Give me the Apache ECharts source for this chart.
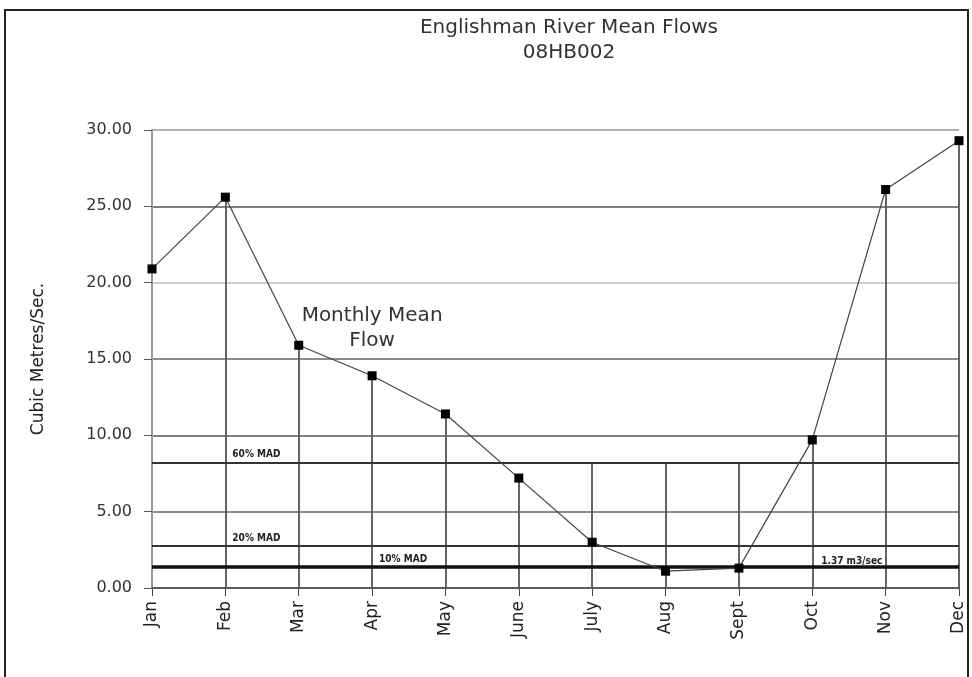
<!DOCTYPE html>
<html>
<head>
<meta charset="utf-8">
<script src="https://cdn.jsdelivr.net/npm/echarts@6/dist/echarts.min.js"></script>
<style>
  html, body { margin: 0; padding: 0; background: #fff; }
  #chart { width: 972px; height: 677px; }
</style>
</head>
<body>
<div id="chart"></div>
<script>
// months and monthly mean flows (m3/s)
var months = ['Jan', 'Feb', 'Mar', 'Apr', 'May', 'June', 'July', 'Aug', 'Sept', 'Oct', 'Nov', 'Dec'];
var meanFlow = [20.9, 25.6, 15.9, 13.9, 11.4, 7.2, 3.0, 1.1, 1.3, 9.7, 26.1, 29.3];
// top of the vertical drop line for each month
var dropTop = [20.9, 25.6, 15.9, 13.9, 11.4, 7.2, 8.2, 8.2, 8.2, 9.7, 26.1, 29.3];
// MAD reference levels
var madNames = ['60% MAD', '20% MAD', '10% MAD'];
var madValues = [8.2, 2.74, 1.37];
var madLabelAt = ['Feb', 'Feb', 'Apr'];

var font = '"DejaVu Sans", "Liberation Sans", sans-serif';
var smallFont = '"Liberation Sans Narrow", "DejaVu Sans Condensed", sans-serif';

var chart = echarts.init(document.getElementById('chart'));

var dropLines = [];
for (var i = 1; i < months.length; i++) {
    dropLines.push([
        { coord: [months[i], 0] },
        { coord: [months[i], dropTop[i]] }
    ]);
}

var madLines = [];
var madLabels = [];
for (var j = 0; j < madValues.length; j++) {
    madLines.push({
        yAxis: madValues[j],
        lineStyle: { color: j == 2 ? '#111' : '#333', width: j == 2 ? 3.5 : 2, type: 'solid' }
    });
    madLabels.push({
        coord: [madLabelAt[j], madValues[j]],
        value: madNames[j],
        label: { position: 'right', offset: [2, -8], formatter: madNames[j] }
    });
}
madLabels.push({
    coord: ['Oct', madValues[2]],
    value: '1.37 m3/sec',
    label: { position: 'right', offset: [4, -6], formatter: '1.37 m3/sec' }
});

var option = {
    animation: false,
    backgroundColor: '#fff',
    title: {
        text: 'Englishman River Mean Flows\n08HB002',
        left: 564,
        top: 10,
        textAlign: 'center',
        textStyle: {
            fontFamily: font,
            fontSize: 20,
            fontWeight: 'normal',
            color: '#333',
            lineHeight: 25
        }
    },
    graphic: [{
        type: 'rect',
        shape: { x: 5, y: 10, width: 963, height: 700 },
        style: { fill: 'none', stroke: '#222', lineWidth: 2 },
        silent: true
    }],
    grid: {
        left: 152,
        right: 13,
        top: 130,
        bottom: 89
    },
    xAxis: {
        type: 'category',
        data: months,
        boundaryGap: false,
        axisLine: { lineStyle: { color: '#444', width: 1.5 } },
        axisTick: { show: true, length: 8, lineStyle: { color: '#444' } },
        axisLabel: {
            rotate: 90,
            margin: 13,
            fontFamily: font,
            fontSize: 17,
            color: '#222'
        },
        splitLine: { show: false }
    },
    yAxis: {
        type: 'value',
        min: 0,
        max: 30,
        interval: 5,
        name: 'Cubic Metres/Sec.',
        nameLocation: 'middle',
        nameGap: 105,
        nameTextStyle: { fontFamily: font, fontSize: 17, color: '#222' },
        axisLine: { show: true, lineStyle: { color: '#999', width: 2 } },
        axisTick: { show: true, length: 8, lineStyle: { color: '#555' } },
        axisLabel: {
            margin: 20,
            fontFamily: font,
            fontSize: 16,
            color: '#333',
            formatter: function (v) { return v.toFixed(2); }
        },
        splitLine: {
            show: true,
            lineStyle: {
                color: ['#888', '#666', '#555', '#666', '#bbb', '#555', '#999'],
                width: 1.5
            }
        }
    },
    series: [
        {
            name: 'Monthly Mean Flow',
            type: 'line',
            data: meanFlow,
            symbol: 'rect',
            symbolSize: 9,
            z: 5,
            itemStyle: { color: '#000' },
            lineStyle: { color: '#444', width: 1.2 },
            markLine: {
                silent: true,
                symbol: 'none',
                label: { show: false },
                lineStyle: { color: '#555', width: 1.8, type: 'solid' },
                data: dropLines.concat(madLines)
            },
            markPoint: {
                silent: true,
                symbol: 'rect',
                symbolSize: 0,
                label: {
                    show: true,
                    fontFamily: smallFont,
                    fontSize: 10,
                    fontWeight: 'bold',
                    color: '#222'
                },
                data: madLabels.concat([{
                    coord: ['Apr', 17],
                    value: 'Monthly Mean\nFlow',
                    label: {
                        position: 'inside',
                        formatter: 'Monthly Mean\nFlow',
                        fontFamily: font,
                        fontSize: 20,
                        fontWeight: 'normal',
                        lineHeight: 25,
                        align: 'center',
                        color: '#333'
                    }
                }])
            }
        }
    ]
};

chart.setOption(option);
</script>
</body>
</html>
